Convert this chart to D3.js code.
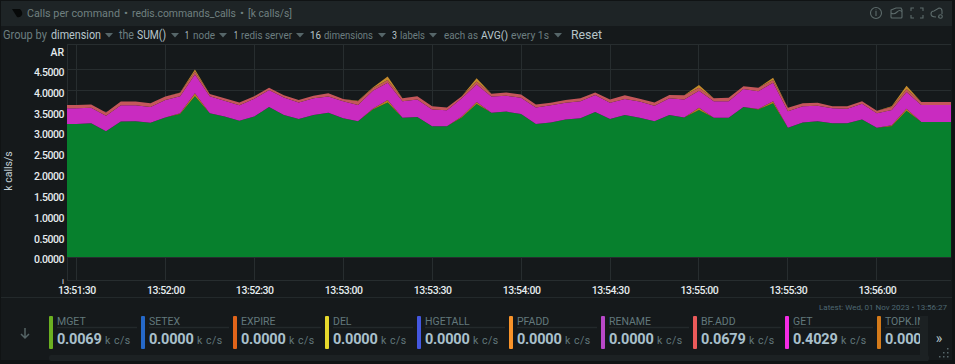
<!DOCTYPE html>
<html>
<head>
<meta charset="utf-8">
<script src="https://cdn.jsdelivr.net/npm/d3@7"></script>
<style>
  html, body { margin: 0; background: #101314; }
  svg { display: block; font-family: Roboto, sans-serif; }
</style>
</head>
<body>
<svg id="chart" width="955" height="364"></svg>
<script>
const startTime = Date.UTC(2023, 10, 1, 13, 51, 25)
const stepSeconds = 5

// stacked from the bottom up, k calls/s
const mainDim = [3.19,3.19,3.21,3.02,3.25,3.26,3.22,3.35,3.43,3.86,3.45,3.37,3.27,3.37,3.60,3.41,3.31,3.41,3.46,3.33,3.26,3.54,3.71,3.34,3.36,3.14,3.14,3.35,3.67,3.46,3.49,3.43,3.19,3.23,3.30,3.33,3.48,3.31,3.41,3.34,3.26,3.41,3.35,3.53,3.34,3.34,3.60,3.54,3.69,3.10,3.23,3.26,3.21,3.21,3.30,3.10,3.14,3.51,3.24,3.24,3.24]
const lowOrange = [0,0,0,0,0,0,0,0,.02,.07,0,0,0,0,0,0,0,0,0,0,0,.02,.06,0,0,0,0,.02,.05,0,0,0,0,0,0,0,0,0,0,0,0,0,0,.05,0,0,0,.01,.05,0,0,0,0,0,0,0,.02,.05,0,0,0]
const getCalls = [.38,.38,.37,.37,.39,.38,.38,.42,.41,.45,.41,.38,.37,.43,.41,.42,.40,.40,.39,.41,.39,.43,.41,.40,.42,.40,.38,.44,.42,.39,.38,.39,.40,.41,.40,.41,.41,.39,.38,.39,.37,.40,.43,.41,.40,.40,.43,.43,.44,.40,.39,.37,.36,.35,.38,.35,.37,.40,.41,.41,.41]
const bfAdd = [.08,.08,.08,.08,.09,.09,.09,.08,.08,.07,.05,.06,.07,.06,.05,.05,.06,.06,.08,.05,.09,.06,.07,.07,.08,.08,.07,.05,.07,.07,.08,.08,.07,.06,.07,.07,.06,.08,.09,.07,.08,.08,.10,.07,.07,.08,.07,.08,.07,.08,.07,.07,.05,.06,.06,.06,.07,.07,.07,.07,.07]
const topOrange = [0,0,0,0,0,0,0,0,.01,.05,0,0,0,0,0,0,0,0,0,0,.01,.02,.08,0,0,0,0,0,.08,0,0,0,0,0,0,0,0,0,0,0,0,0,0,.07,0,0,0,0,.05,0,0,0,0,0,0,0,.02,.08,0,0,0]

const layerKeys = ['main', 'lowOrange', 'get', 'bfAdd', 'topOrange']
const layerColors = ['#07802d', '#b5801f', '#c92bc0', '#c4575a', '#c48a2c']

const yTicks = [0, 0.5, 1, 1.5, 2, 2.5, 3, 3.5, 4, 4.5]
const xTicks = ['13:51:30', '13:52:00', '13:52:30', '13:53:00', '13:53:30', '13:54:00', '13:54:30', '13:55:00', '13:55:30', '13:56:00']

const legendNames = ['MGET', 'SETEX', 'EXPIRE', 'DEL', 'HGETALL', 'PFADD', 'RENAME', 'BF.ADD', 'GET', 'TOPK.IN']
const legendValues = ['0.0069', '0.0000', '0.0000', '0.0000', '0.0000', '0.0000', '0.0000', '0.0679', '0.4029', '0.0000']
const legendColors = ['#6bb021', '#2568c8', '#e0641a', '#e6d82c', '#4457e0', '#f8932a', '#b848c8', '#ea5a5a', '#f42be4', '#d47a1a']

const svg = d3.select('#chart')
const plotLeft = 67, plotRight = 951, plotTop = 44, plotBottom = 280

const rows = mainDim.map((d, i) => ({
  time: new Date(startTime + i * stepSeconds * 1000),
  main: d,
  lowOrange: lowOrange[i],
  get: getCalls[i],
  bfAdd: bfAdd[i],
  topOrange: topOrange[i]
}))

const parseTick = s => {
  const [h, m, sec] = s.split(':').map(Number)
  return new Date(Date.UTC(2023, 10, 1, h, m, sec))
}

const x = d3.scaleUtc()
  .domain([Date.UTC(2023, 10, 1, 13, 51, 26, 850), Date.UTC(2023, 10, 1, 13, 56, 25)])
  .range([plotLeft, plotRight])
const y = d3.scaleLinear()
  .domain([0, 4.5])
  .range([257, 69.5])

// page panels
svg.append('rect').attr('width', 955).attr('height', 364).attr('fill', '#101314')
svg.append('rect').attr('x', 1).attr('y', 1).attr('width', 951).attr('height', 359).attr('fill', '#15191b')
svg.append('rect').attr('x', 1).attr('y', 1).attr('width', 951).attr('height', 25).attr('fill', '#1e2426')

// header: x, text, width
const titleParts = [
  [27, 'Calls per command', 93], [124, '•', 4], [132, 'redis.commands_calls', 104], [240, '•', 4], [248, '[k calls/s]', 44]
]
svg.append('path').attr('d', 'M12 9 L20 9 Q23 12 22 15 Q20 18 17 17 Z').attr('fill', '#070909')
svg.append('g').selectAll('text').data(titleParts).join('text')
  .attr('x', d => d[0]).attr('y', 17).attr('font-size', 11).attr('fill', '#708080')
  .attr('textLength', d => d[2]).attr('lengthAdjust', 'spacingAndGlyphs')
  .text(d => d[1])

const icons = svg.append('g').attr('fill', 'none').attr('stroke', '#5d6b6b').attr('stroke-width', 1.1)
icons.append('circle').attr('cx', 876).attr('cy', 13).attr('r', 5.5)
icons.append('path').attr('d', 'M876 11 V16 M876 9.5 V10.3')
icons.append('path').attr('d', 'M891 10 L896 8 L901 8 L902 10 V17 Q902 18 901 18 H892 Q891 18 891 17 Z M891 13 Q894 15 897 12 T902 12')
icons.append('path').attr('d', 'M911 11 V8 H914 M920 8 H923 V11 M911 15 V18 H914 M923 15 V18 H920')
icons.append('path').attr('d', 'M936 17 Q931 17 931 14 Q931 11 934 11 L939 8 Q942 8 942 11 V14 M938 17 H939')
icons.append('circle').attr('cx', 940.5).attr('cy', 16.5).attr('r', 1.8)

// toolbar, text pieces in two tones: x, text, colour, size, width
const toolbar = [
  [3, 'Group by', '#6c7e80', 12, 44], [51, 'dimension', '#b8c6cc', 12, 50],
  [119, 'the', '#6c7e80', 12, 15], [137, 'SUM()', '#b8c6cc', 12, 29],
  [185, '1', '#b8c6cc', 11, 4], [193, 'node', '#6c7e80', 11, 22],
  [234, '1', '#b8c6cc', 11, 4], [241, 'redis server', '#6c7e80', 11, 51],
  [310, '16', '#b8c6cc', 11, 11], [324, 'dimensions', '#6c7e80', 11, 49],
  [392, '3', '#b8c6cc', 11, 5], [400, 'labels', '#6c7e80', 11, 25],
  [444, 'each as', '#6c7e80', 11, 34], [481, 'AVG()', '#b8c6cc', 11, 27], [511, 'every 1s', '#6c7e80', 11, 38],
  [571, 'Reset', '#b6c4c8', 13, 31]
]
const caretX = [109, 175, 223, 300, 382, 433, 558]
svg.append('g').selectAll('text').data(toolbar).join('text')
  .attr('x', d => d[0]).attr('y', 39)
  .attr('fill', d => d[2]).attr('font-size', d => d[3])
  .attr('textLength', d => d[4]).attr('lengthAdjust', 'spacingAndGlyphs')
  .text(d => d[1])
svg.append('g').selectAll('path').data(caretX).join('path')
  .attr('d', d => `M${d - 4} 33 H${d + 4} L${d} 37.5 Z`).attr('fill', '#566669')

// grid
const grid = svg.append('g').attr('stroke', '#272d2f').attr('stroke-width', 1).attr('shape-rendering', 'crispEdges')
grid.selectAll('.h').data(yTicks).join('line').attr('class', 'h')
  .attr('x1', plotLeft).attr('x2', plotRight).attr('y1', d => y(d)).attr('y2', d => y(d))
grid.selectAll('.v').data(xTicks).join('line').attr('class', 'v')
  .attr('x1', d => x(parseTick(d))).attr('x2', d => x(parseTick(d))).attr('y1', plotTop).attr('y2', plotBottom)
grid.append('line').attr('x1', plotLeft).attr('x2', plotRight).attr('y1', plotTop).attr('y2', plotTop)
grid.append('line').attr('x1', plotLeft).attr('x2', plotRight).attr('y1', plotBottom).attr('y2', plotBottom)
grid.append('line').attr('x1', plotLeft).attr('x2', plotLeft).attr('y1', plotTop).attr('y2', plotBottom)

// stacked areas
svg.append('clipPath').attr('id', 'plot-clip').append('rect')
  .attr('x', plotLeft).attr('y', plotTop).attr('width', plotRight - plotLeft).attr('height', plotBottom - plotTop)

const area = d3.area()
  .x(d => x(d.data.time))
  .y0(d => y(d[0]))
  .y1(d => y(d[1]))

svg.append('g').attr('clip-path', 'url(#plot-clip)')
  .selectAll('path')
  .data(d3.stack().keys(layerKeys)(rows))
  .join('path')
  .attr('d', area)
  .attr('fill', (d, i) => layerColors[i])

// axes
const tickStyle = g => g.selectAll('text')
  .attr('fill', '#e6ecee').attr('font-size', 10.5).attr('letter-spacing', -0.45)
  .attr('font-family', 'Roboto, sans-serif').attr('font-weight', 500)

const yAxis = d3.axisLeft(y).tickValues(yTicks).tickFormat(d3.format('.4f')).tickSize(0).tickPadding(3)
svg.append('g').attr('transform', `translate(${plotLeft},2.5)`).call(yAxis)
  .call(g => g.select('.domain').remove())
  .call(tickStyle)

const xAxis = d3.axisBottom(x).tickValues(xTicks.map(parseTick)).tickFormat(d3.utcFormat('%H:%M:%S')).tickSize(0).tickPadding(7)
svg.append('g').attr('transform', `translate(0,${plotBottom})`).call(xAxis)
  .call(g => g.select('.domain').remove())
  .call(tickStyle)

svg.append('text').attr('x', 64).attr('y', 56).attr('text-anchor', 'end')
  .attr('font-size', 10.5).attr('font-weight', 500).attr('fill', '#e6ecee').text('AR')
svg.append('text').attr('x', 63).attr('y', 284).attr('text-anchor', 'middle')
  .attr('font-size', 8).attr('fill', '#e6ecee').text('i')
svg.append('text').attr('transform', 'translate(12,171) rotate(-90)').attr('text-anchor', 'middle')
  .attr('font-size', 10.5).attr('fill', '#c3d0d6').text('k calls/s')

// legend area
svg.append('line').attr('x1', 1).attr('x2', 952).attr('y1', 297.5).attr('y2', 297.5).attr('stroke', '#23292b')
svg.append('text').attr('x', 819).attr('y', 310)
  .attr('font-size', 8).attr('fill', '#4e6872')
  .attr('textLength', 128).attr('lengthAdjust', 'spacingAndGlyphs')
  .text('Latest: Wed, 01 Nov 2023 • 13:56:27')
svg.append('path').attr('d', 'M25 328 V338 M21 334 L25 338 L29 334')
  .attr('fill', 'none').attr('stroke', '#556466').attr('stroke-width', 1.5)

svg.append('rect').attr('x', 49).attr('y', 355).attr('width', 880).attr('height', 6).attr('rx', 2).attr('fill', '#1c2123')

const legendWidth = 92
svg.append('clipPath').attr('id', 'legend-clip').append('rect')
  .attr('x', 40).attr('y', 310).attr('width', 880).attr('height', 45)

const items = svg.append('g').attr('clip-path', 'url(#legend-clip)')
  .selectAll('g').data(legendNames).join('g')
  .attr('transform', (d, i) => `translate(${49 + i * legendWidth},316)`)

items.append('rect').attr('width', 4).attr('height', 33).attr('rx', 1)
  .attr('fill', (d, i) => legendColors[i])
items.append('text').attr('x', 8).attr('y', 8.5).attr('font-size', 10.5).attr('fill', '#62787c').text(d => d)
items.append('line').attr('x1', 8).attr('x2', 88).attr('y1', 11.5).attr('y2', 11.5).attr('stroke', '#23292b').attr('stroke-width', 1.5)
items.append('text').attr('x', 8).attr('y', 28).attr('font-size', 14.5).attr('font-weight', 700).attr('letter-spacing', -0.2).attr('fill', '#a9c0cc')
  .text((d, i) => legendValues[i])
// the last item is cut off before its unit
items.filter((d, i) => i < legendNames.length - 1)
  .append('text').attr('x', 56).attr('y', 28).attr('font-size', 10.5).attr('fill', '#62787c').attr('letter-spacing', 0.5).text('k c/s')

svg.append('rect').attr('x', 920).attr('y', 316).attr('width', 8).attr('height', 45).attr('fill', '#1c2123')
svg.append('text').attr('x', 939).attr('y', 343).attr('text-anchor', 'middle').attr('font-size', 14).attr('fill', '#b6c4c8').text('»')
const gripDots = [[947, 348], [943, 352], [947, 352], [939, 356], [943, 356], [947, 356]]
svg.append('g').selectAll('rect').data(gripDots).join('rect')
  .attr('x', d => d[0]).attr('y', d => d[1]).attr('width', 1.5).attr('height', 1.5).attr('fill', '#56666a')
</script>
</body>
</html>
